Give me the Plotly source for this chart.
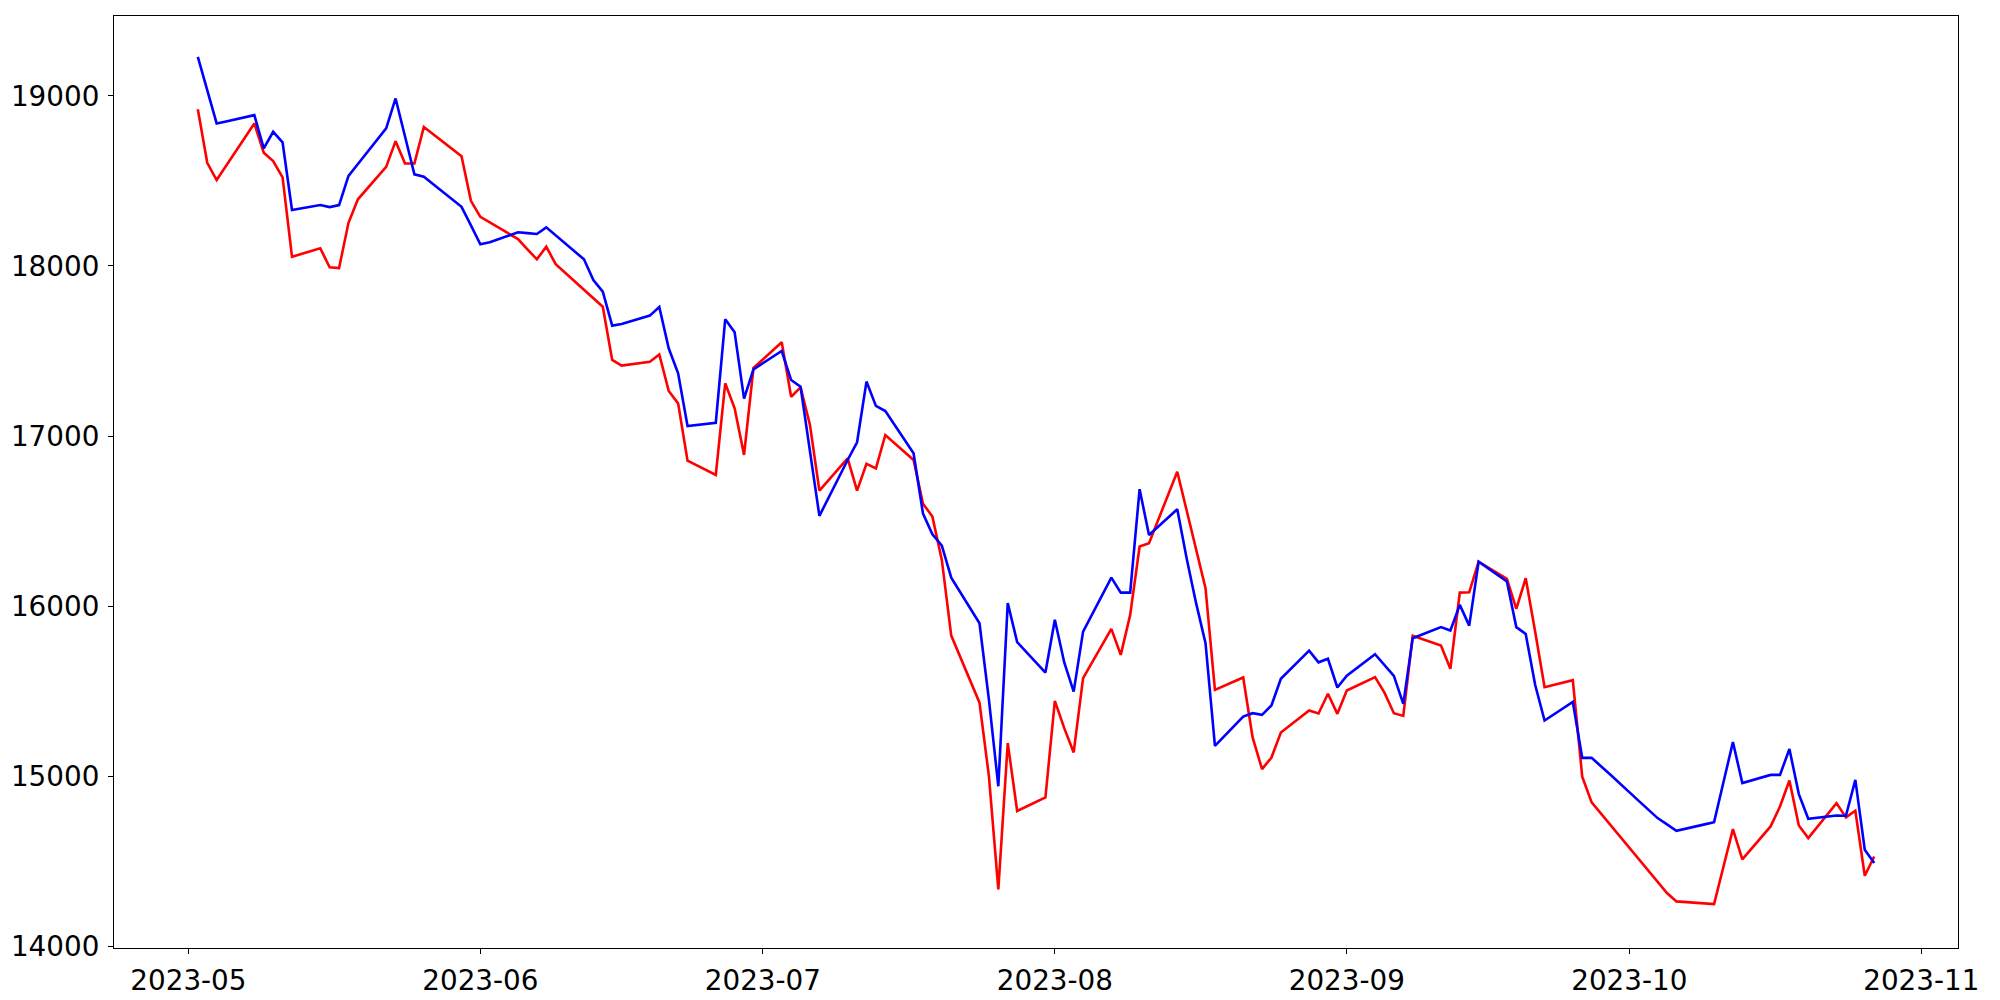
import plotly.graph_objects as go
import pandas as pd

dates = [
    "2023-05-02", "2023-05-03", "2023-05-04", "2023-05-05", "2023-05-08", "2023-05-09",
    "2023-05-10", "2023-05-11", "2023-05-12", "2023-05-15", "2023-05-16", "2023-05-17",
    "2023-05-18", "2023-05-19", "2023-05-22", "2023-05-23", "2023-05-24", "2023-05-25",
    "2023-05-26", "2023-05-30", "2023-05-31", "2023-06-01", "2023-06-02", "2023-06-05",
    "2023-06-06", "2023-06-07", "2023-06-08", "2023-06-09", "2023-06-12", "2023-06-13",
    "2023-06-14", "2023-06-15", "2023-06-16", "2023-06-19", "2023-06-20", "2023-06-21",
    "2023-06-22", "2023-06-23", "2023-06-26", "2023-06-27", "2023-06-28", "2023-06-29",
    "2023-06-30", "2023-07-03", "2023-07-04", "2023-07-05", "2023-07-06", "2023-07-07",
    "2023-07-10", "2023-07-11", "2023-07-12", "2023-07-13", "2023-07-14", "2023-07-17",
    "2023-07-18", "2023-07-19", "2023-07-20", "2023-07-21", "2023-07-24", "2023-07-25",
    "2023-07-26", "2023-07-27", "2023-07-28", "2023-07-31", "2023-08-01", "2023-08-02",
    "2023-08-03", "2023-08-04", "2023-08-07", "2023-08-08", "2023-08-09", "2023-08-10",
    "2023-08-11", "2023-08-14", "2023-08-15", "2023-08-16", "2023-08-17", "2023-08-18",
    "2023-08-21", "2023-08-22", "2023-08-23", "2023-08-24", "2023-08-25", "2023-08-28",
    "2023-08-29", "2023-08-30", "2023-08-31", "2023-09-01", "2023-09-04", "2023-09-05",
    "2023-09-06", "2023-09-07", "2023-09-08", "2023-09-11", "2023-09-12", "2023-09-13",
    "2023-09-14", "2023-09-15", "2023-09-18", "2023-09-19", "2023-09-20", "2023-09-21",
    "2023-09-22", "2023-09-25", "2023-09-26", "2023-09-27", "2023-09-28", "2023-09-29",
    "2023-10-02", "2023-10-03", "2023-10-04", "2023-10-05", "2023-10-06", "2023-10-09",
    "2023-10-10", "2023-10-11", "2023-10-12", "2023-10-13", "2023-10-16", "2023-10-17",
    "2023-10-18", "2023-10-19", "2023-10-20", "2023-10-23", "2023-10-24", "2023-10-25",
    "2023-10-26", "2023-10-27",
]

blue_values = [
    19230, 19034, 18838, 18850, 18887, 18691,
    18789, 18727, 18329, 18358, 18346, 18358,
    18530, 18600, 18809, 18985, 18762, 18539,
    18525, 18348, 18239, 18127, 18139, 18198,
    18193, 18188, 18227, 18180, 18039, 17917,
    17849, 17649, 17659, 17708, 17759, 17516,
    17369, 17059, 17078, 17686, 17610, 17220,
    17392, 17500, 17329, 17290, 16916, 16530,
    16859, 16963, 17320, 17177, 17147, 16899,
    16544, 16422, 16356, 16167, 15899, 15450,
    14940, 16018, 15788, 15609, 15919, 15668,
    15497, 15850, 16167, 16079, 16079, 16687,
    16418, 16569, 16280, 16017, 15782, 15178,
    15350, 15370, 15360, 15415, 15572, 15738,
    15669, 15690, 15521, 15591, 15717, 15652,
    15589, 15425, 15811, 15876, 15856, 16007,
    15885, 16261, 16144, 15876, 15836, 15537,
    15327, 15436, 15107, 15107, 15059, 15008,
    14854, 14803, 14753, 14716, 14678, 14716,
    14729, 14965, 15200, 14959, 15007, 15007,
    15159, 14894, 14749, 14768, 14767, 14978,
    14567, 14489,
]

red_values = [
    18922, 18607, 18505, 18589, 18838, 18666,
    18617, 18521, 18054, 18104, 17992, 17988,
    18254, 18392, 18583, 18734, 18603, 18603,
    18818, 18646, 18383, 18289, 18256, 18158,
    18098, 18039, 18113, 18011, 17860, 17810,
    17760, 17447, 17414, 17437, 17480, 17265,
    17192, 16855, 16771, 17310, 17163, 16889,
    17400, 17551, 17231, 17286, 17065, 16679,
    16869, 16679, 16836, 16810, 17006, 16859,
    16602, 16526, 16271, 15826, 15432, 15000,
    14334, 15194, 14795, 14874, 15442, 15282,
    15139, 15576, 15866, 15713, 15948, 16350,
    16370, 16790, 16557, 16320, 16105, 15507,
    15580, 15227, 15041, 15109, 15256, 15386,
    15368, 15484, 15366, 15503, 15582, 15491,
    15370, 15354, 15825, 15768, 15631, 16079,
    16081, 16261, 16160, 15983, 16164, 15850,
    15523, 15564, 14996, 14845, 14779, 14713,
    14514, 14448, 14383, 14312, 14263, 14250,
    14247, 14468, 14688, 14510, 14704, 14821,
    14974, 14709, 14635, 14841, 14757, 14796,
    14414, 14527,
]

x_tick_vals = ["2023-05-01", "2023-06-01", "2023-07-01", "2023-08-01",
               "2023-09-01", "2023-10-01", "2023-11-01"]
x_tick_text = ["2023-05", "2023-06", "2023-07", "2023-08",
               "2023-09", "2023-10", "2023-11"]
y_tick_vals = [14000, 15000, 16000, 17000, 18000, 19000]
y_tick_text = ["14000", "15000", "16000", "17000", "18000", "19000"]

d = pd.to_datetime(dates)
span = d[-1] - d[0]
x_range = [d[0] - 0.05 * span, d[-1] + 0.05 * span]

fig = go.Figure()
fig.add_trace(go.Scatter(x=d, y=red_values, mode="lines",
                         line=dict(color="#ff0000", width=2.6)))
fig.add_trace(go.Scatter(x=d, y=blue_values, mode="lines",
                         line=dict(color="#0000ff", width=2.6)))

axis_common = dict(
    showgrid=False, zeroline=False, showline=True, linecolor="black",
    linewidth=1.1, mirror=True, ticks="outside", ticklen=5, tickwidth=1.1,
    tickcolor="black", automargin=False,
    tickfont=dict(family="DejaVu Sans", size=27.8, color="black"),
)

# page body has an 8px default margin; size/margins compensate for it
fig.update_layout(
    width=1992, height=992,
    margin=dict(l=106, r=42, t=8, b=52, pad=0),
    paper_bgcolor="white", plot_bgcolor="white",
    showlegend=False,
    xaxis=dict(type="date", range=x_range, tickvals=pd.to_datetime(x_tick_vals),
               ticktext=x_tick_text, ticklabelstandoff=3, **axis_common),
    yaxis=dict(range=[13989, 19470], tickvals=y_tick_vals, ticktext=y_tick_text,
               ticklabelstandoff=3, **axis_common),
)

fig.write_html("out.html")
